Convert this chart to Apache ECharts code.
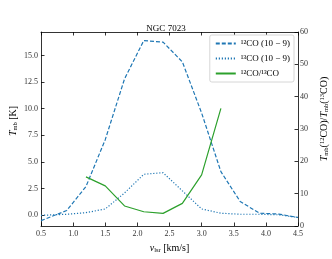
<!DOCTYPE html>
<html><head><meta charset="utf-8">
<script src="https://cdn.jsdelivr.net/npm/echarts@6/dist/echarts.min.js"></script>
<style>html,body{margin:0;padding:0;background:#fff}#c{width:332px;height:259px}</style>
</head><body><div id="c"></div>
<script>
const vel12 = [0.5, 0.9, 1.2, 1.5, 1.8, 2.1, 2.4, 2.7, 3.0, 3.3, 3.6, 3.9, 4.2, 4.5];
const t12   = [-0.5, 0.45, 2.7, 7.1, 12.8, 16.4, 16.25, 14.4, 9.6, 4.1, 1.3, 0.2, 0.12, -0.2];
const vel13 = [0.5, 0.9, 1.2, 1.5, 1.8, 2.1, 2.4, 2.7, 3.0, 3.3, 3.6, 3.9, 4.2, 4.5];
const t13   = [0.0, 0.1, 0.25, 0.6, 2.1, 3.85, 4.0, 2.3, 0.6, 0.2, 0.1, 0.1, 0.05, -0.2];
const velR  = [1.2, 1.5, 1.8, 2.1, 2.4, 2.7, 3.0, 3.3];
const ratio = [15.2, 12.4, 6.2, 4.4, 3.9, 7.0, 15.8, 36.4];
const xTicks = [0.5, 1.0, 1.5, 2.0, 2.5, 3.0, 3.5, 4.0, 4.5];
const leftTicks = [0, 2.5, 5.0, 7.5, 10.0, 12.5, 15.0];
const rightTicks = [0, 10, 20, 30, 40, 50, 60];

const FF = 'Liberation Serif';
const axisCommon = {
  axisLine: {show: true, onZero: false, lineStyle: {color: '#000', width: 0.8}},
  axisTick: {show: true, inside: true, length: 3.5, lineStyle: {color: '#000', width: 0.8}},
  splitLine: {show: false},
};
const lblStyle = {fontFamily: FF, fontSize: 8, color: '#333'};
const nameRich = {
  i: {fontFamily: FF, fontSize: 10, fontStyle: 'italic', color: '#000'},
  s: {fontFamily: FF, fontSize: 6.5, color: '#000', verticalAlign: 'bottom', padding: [4, 0, 0, 0]},
  p: {fontFamily: FF, fontSize: 6.5, color: '#000', verticalAlign: 'top', padding: [0, 0, 4, 0]},
  n: {fontFamily: FF, fontSize: 10, color: '#000'}
};
const hideSym = {opacity: 0, borderWidth: 0};
const chart = echarts.init(document.getElementById('c'));
chart.setOption({
  animation: false,
  title: {text: 'NGC 7023', left: 'center', top: 19, textStyle: {fontFamily: FF, fontSize: 9, fontWeight: 'normal', color: '#000'}},
  grid: {left: 41, right: 34, top: 32, bottom: 33, outerBoundsMode: 'none', containLabel: false},
  legend: {
    right: 38, top: 35, orient: 'vertical', itemWidth: 20, itemHeight: 8, itemGap: 6,
    backgroundColor: '#fff', borderColor: '#ccc', borderWidth: 0.8, borderRadius: 2, padding: [4, 4, 4, 5],
    textStyle: {fontFamily: FF, fontSize: 9, color: '#000'},
    itemStyle: hideSym,
    data: [
      {name: '¹²CO (10 − 9)', itemStyle: hideSym},
      {name: '¹³CO (10 − 9)', itemStyle: hideSym},
      {name: '¹²CO/¹³CO', itemStyle: hideSym}
    ]
  },
  xAxis: [
    Object.assign({}, axisCommon, {
      type: 'value', min: 0.5, max: 4.5, interval: 0.5, position: 'bottom',
      axisLabel: Object.assign({}, lblStyle, {margin: 4, formatter: v => v.toFixed(1)}),
      name: '{i|v}{s|lsr}{n| [km/s]}', nameLocation: 'middle', nameGap: 11,
      nameTextStyle: {rich: nameRich}
    }),
    Object.assign({}, axisCommon, {
      type: 'value', min: 0.5, max: 4.5, interval: 0.5, position: 'top',
      axisLabel: {show: false}
    })
  ],
  yAxis: [
    Object.assign({}, axisCommon, {
      type: 'value', min: -1.0, max: 17.2, position: 'left',
      axisLabel: Object.assign({}, lblStyle, {margin: 3, customValues: leftTicks, formatter: v => v.toFixed(1)}),
      axisTick: Object.assign({}, axisCommon.axisTick, {customValues: leftTicks}),
      name: '{i|T}{s|mb}{n| [K]}', nameLocation: 'middle', nameGap: 22, nameMoveOverlap: false,
      nameTextStyle: {rich: nameRich, padding: [0, 0, 0, 16]}
    }),
    Object.assign({}, axisCommon, {
      type: 'value', min: 0, max: 60, interval: 10, position: 'right',
      axisLabel: Object.assign({}, lblStyle, {margin: 2, formatter: v => String(v)}),
      name: '{i|T}{s|mb}{n|(}{p|12}{n|CO)/}{i|T}{s|mb}{n|(}{p|13}{n|CO)}', nameLocation: 'middle', nameGap: 15,
      nameRotate: 90,
      nameTextStyle: {rich: nameRich, padding: [0, 0, 0, 20]}
    })
  ],
  series: [
    {name: '¹²CO (10 − 9)', type: 'line', symbol: 'none', xAxisIndex: 0, yAxisIndex: 0,
     data: vel12.map((v, i) => [v, t12[i]]), color: '#1f77b4',
     lineStyle: {color: '#1f77b4', width: 1.2, type: [4, 2]}},
    {name: '¹³CO (10 − 9)', type: 'line', symbol: 'none', xAxisIndex: 0, yAxisIndex: 0,
     data: vel13.map((v, i) => [v, t13[i]]), color: '#1f77b4',
     lineStyle: {color: '#1f77b4', width: 1.2, type: [1.2, 1.8]}},
    {name: '¹²CO/¹³CO', type: 'line', symbol: 'none', xAxisIndex: 0, yAxisIndex: 1,
     data: velR.map((v, i) => [v, ratio[i]]), color: '#2ca02c',
     lineStyle: {color: '#2ca02c', width: 1.2}}
  ]
});
</script></body></html>
